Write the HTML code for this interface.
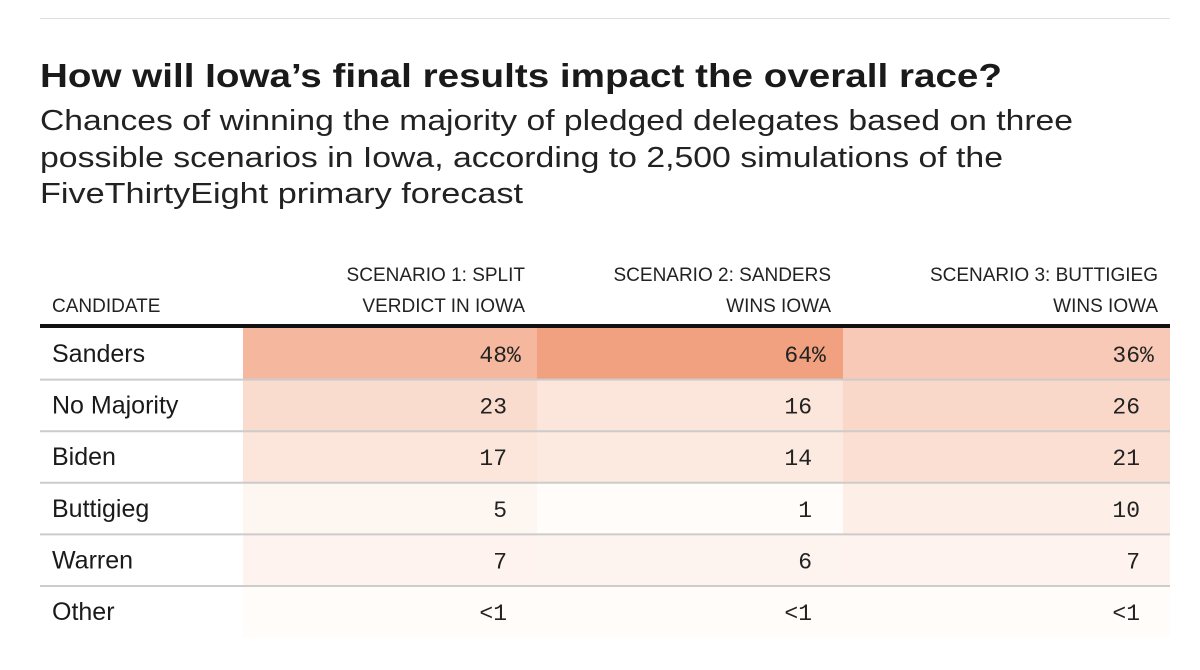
<!DOCTYPE html>
<html><head><meta charset="utf-8"><style>
body{margin:0;width:1200px;height:665px;background:#fff;overflow:hidden;font-family:"Liberation Sans",sans-serif;}
</style></head><body>
<svg width="1200" height="665">
<line x1="40" y1="18.5" x2="1170" y2="18.5" stroke="#e0e0e0"/>
<text x="40" y="87" font-size="33" font-weight="bold" fill="#1a1a1a" textLength="962" lengthAdjust="spacingAndGlyphs">How will Iowa’s final results impact the overall race?</text>
<g font-size="29" fill="#222">
<text x="40" y="130" textLength="1033" lengthAdjust="spacingAndGlyphs">Chances of winning the majority of pledged delegates based on three</text>
<text x="40" y="167" textLength="963" lengthAdjust="spacingAndGlyphs">possible scenarios in Iowa, according to 2,500 simulations of the</text>
<text x="40" y="203" textLength="483" lengthAdjust="spacingAndGlyphs">FiveThirtyEight primary forecast</text>
</g>
<g id="table"></g>
</svg>
<script>
const candidates=["Sanders","No Majority","Biden","Buttigieg","Warren","Other"];
const scenario1=[48,23,17,5,7,0.5];
const scenario2=[64,16,14,1,6,0.5];
const scenario3=[36,26,21,10,7,0.5];
const headers=[["SCENARIO 1: SPLIT","VERDICT IN IOWA"],["SCENARIO 2: SANDERS","WINS IOWA"],["SCENARIO 3: BUTTIGIEG","WINS IOWA"]];
const NS="http://www.w3.org/2000/svg";
const tg=document.getElementById('table');
function mk(t,a){const e=document.createElementNS(NS,t);for(const k in a)e.setAttribute(k,a[k]);tg.appendChild(e);return e;}
const colX=[243,537,843,1170], numRight=[507,812,1140];
const tableTop=328,rowH=51.6;
function rowY(i){return tableTop+i*rowH;}
function color(v){const t=Math.min(v/64,1);const a=[255,253,251],b=[242,161,128];return 'rgb('+a.map((c,k)=>Math.round(c+(b[k]-c)*t)).join(',')+')';}
const series=[scenario1,scenario2,scenario3];
const h=mk('text',{x:52,y:312,'font-size':19,fill:'#222'});h.textContent="CANDIDATE";


headers.forEach((hd,j)=>{hd.forEach((l,k)=>{const t=mk('text',{x:colX[j+1]-12,y:281+k*31,'font-size':19,fill:'#222','text-anchor':'end'});t.textContent=l;

});});
candidates.forEach((c,i)=>{
 const y=rowY(i);
 series.forEach((s,j)=>{
  const r=mk('rect',{x:colX[j],y:y,width:colX[j+1]-colX[j],height:rowH,fill:color(s[i])});
  
  
  const t=mk('text',{x:numRight[j],y:y+34,'font-size':23,fill:'#222','text-anchor':'end','font-family':'Liberation Mono, monospace'});
  t.textContent=s[i]<1?'<1':String(s[i]);
  
  
  if(i===0){const p=mk('text',{x:numRight[j],y:y+34,'font-size':23,fill:'#222','font-family':'Liberation Mono, monospace'});p.textContent='%';
  
  }
 });
 const l=mk('text',{x:52,y:y+34,'font-size':25,fill:'#1a1a1a'});l.textContent=c;
 
 
 if(i>0){const ln=mk('line',{x1:40,x2:1170,y1:y,y2:y,stroke:'#ccc','stroke-width':2});
 
 }
});
const hl=mk('line',{x1:40,x2:1170,y1:326,y2:326,stroke:'#111','stroke-width':4});


</script>
</body></html>
